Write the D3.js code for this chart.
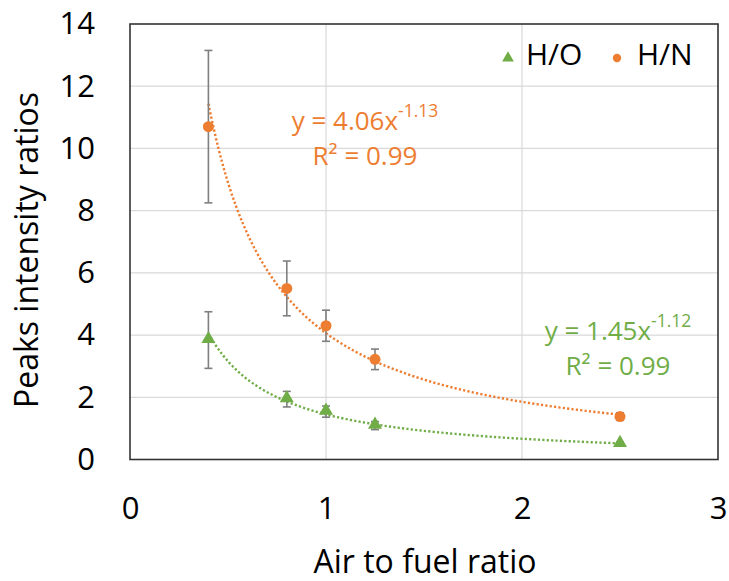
<!DOCTYPE html>
<html>
<head>
<meta charset="utf-8">
<script src="https://cdn.jsdelivr.net/npm/d3@7"></script>
<style>
  body { margin: 0; background: #fff; }
  text { font-family: "Open Sans", sans-serif; }
</style>
</head>
<body>
<div id="chart"></div>
<script>
// data
const airFuel = [0.4, 0.8, 1.0, 1.25, 2.5];
const hoValues = [3.84, 1.94, 1.54, 1.09, 0.5];
const hoErrors = [0.91, 0.25, 0.18, 0.13, 0.06];
const hnValues = [10.7, 5.5, 4.3, 3.22, 1.38];
const hnErrors = [2.45, 0.88, 0.5, 0.33, 0.12];
// power trendlines y = a * x^b as printed on the chart
const hoFit = [1.45, -1.12];
const hnFit = [4.06, -1.13];
const xTicks = [0, 1, 2, 3];
const yTicks = [0, 2, 4, 6, 8, 10, 12, 14];

const W = 729, H = 581;
const margin = { top: 24, right: 11, bottom: 121.5, left: 130 };
const width = W - margin.left - margin.right;
const height = H - margin.top - margin.bottom;

const green = '#70AD47', orange = '#ED7D31';

const svg = d3.select('#chart').append('svg')
  .attr('width', W).attr('height', H);
const g = svg.append('g')
  .attr('transform', 'translate(' + margin.left + ',' + margin.top + ')');

const x = d3.scaleLinear().domain([0, 3]).range([0, width]);
const y = d3.scaleLinear().domain([0, 14]).range([height, 0]);

// gridlines
g.append('g').selectAll('line').data(yTicks.slice(1, -1)).enter().append('line')
  .attr('x1', 0).attr('x2', width)
  .attr('y1', d => y(d)).attr('y2', d => y(d))
  .attr('stroke', '#d9d9d9').attr('stroke-width', 1.2);
g.append('g').selectAll('line').data(xTicks.slice(1, -1)).enter().append('line')
  .attr('y1', 0).attr('y2', height)
  .attr('x1', d => x(d)).attr('x2', d => x(d))
  .attr('stroke', '#d9d9d9').attr('stroke-width', 1.2);

// axes (labels only)
const xAxis = g.append('g')
  .attr('transform', 'translate(0,' + height + ')')
  .call(d3.axisBottom(x).tickValues(xTicks).tickSize(0).tickPadding(37).tickFormat(d3.format('d')));
const yAxis = g.append('g')
  .call(d3.axisLeft(y).tickValues(yTicks).tickSize(0).tickPadding(35).tickFormat(d3.format('d')));
[xAxis, yAxis].forEach(a => {
  a.select('.domain').remove();
  a.selectAll('text').attr('font-size', 31).attr('fill', '#000')
    .style('font-family', '"Open Sans", sans-serif');
});

// plot border
g.append('rect').attr('width', width).attr('height', height)
  .attr('fill', 'none').attr('stroke', '#333').attr('stroke-width', 1.6);

// trendlines
const line = d3.line().x(d => x(d[0])).y(d => y(d[1])).curve(d3.curveBasis);
function fitPoints(fit) {
  const lo = d3.min(airFuel), hi = d3.max(airFuel);
  return d3.range(0, 61).map(i => {
    const xv = lo + (hi - lo) * i / 60;
    return [xv, fit[0] * Math.pow(xv, fit[1])];
  });
}
[[hoFit, green], [hnFit, orange]].forEach(([fit, c]) => {
  g.append('path').datum(fitPoints(fit))
    .attr('d', line).attr('fill', 'none').attr('stroke', c)
    .attr('stroke-width', 2.4).attr('stroke-dasharray', '2.2,2.2');
});

// error bars
function errorBars(vals, errs) {
  const eb = g.append('g').attr('stroke', '#7f7f7f').attr('stroke-width', 1.6);
  airFuel.forEach((xv, i) => {
    const cx = x(xv), top = y(vals[i] + errs[i]), bot = y(vals[i] - errs[i]);
    eb.append('line').attr('x1', cx).attr('x2', cx).attr('y1', top).attr('y2', bot);
    eb.append('line').attr('x1', cx - 4).attr('x2', cx + 4).attr('y1', top).attr('y2', top);
    eb.append('line').attr('x1', cx - 4).attr('x2', cx + 4).attr('y1', bot).attr('y2', bot);
  });
}
errorBars(hoValues, hoErrors);
errorBars(hnValues, hnErrors);

// markers
const tri = d3.symbol().type(d3.symbolTriangle).size(85);
g.append('g').selectAll('path').data(airFuel).enter().append('path')
  .attr('d', tri)
  .attr('transform', (d, i) => 'translate(' + x(d) + ',' + (y(hoValues[i]) - 1) + ')')
  .attr('fill', green);
g.append('g').selectAll('circle').data(airFuel).enter().append('circle')
  .attr('cx', d => x(d)).attr('cy', (d, i) => y(hnValues[i]))
  .attr('r', 5.5).attr('fill', orange);

// equations
function equation(cx, yb, a, b, color) {
  const t = svg.append('text').attr('x', cx).attr('y', yb)
    .attr('text-anchor', 'middle').attr('fill', color).attr('font-size', 26);
  t.append('tspan').text('y = ' + a.toFixed(2) + 'x');
  t.append('tspan').attr('dy', -13).attr('font-size', 17.5).text(b.toFixed(2));
  svg.append('text').attr('x', cx).attr('y', yb + 35)
    .attr('text-anchor', 'middle').attr('fill', color).attr('font-size', 26)
    .text('R\u00B2 = 0.99');
}
equation(365, 130, hnFit[0], hnFit[1], orange);
equation(618, 340, hoFit[0], hoFit[1], green);

// legend
svg.append('path').attr('d', d3.symbol().type(d3.symbolTriangle).size(60))
  .attr('transform', 'translate(508,58)').attr('fill', green);
svg.append('text').attr('x', 526).attr('y', 65).attr('font-size', 30).text('H/O');
svg.append('circle').attr('cx', 617).attr('cy', 58).attr('r', 4.2).attr('fill', orange);
svg.append('text').attr('x', 637).attr('y', 65).attr('font-size', 30).text('H/N');

// axis titles
svg.append('text').attr('x', 425).attr('y', 573).attr('text-anchor', 'middle')
  .attr('font-size', 32).text('Air to fuel ratio');
svg.append('text').attr('transform', 'translate(38,250) rotate(-90)')
  .attr('text-anchor', 'middle').attr('font-size', 32).text('Peaks intensity ratios');
</script>
</body>
</html>
